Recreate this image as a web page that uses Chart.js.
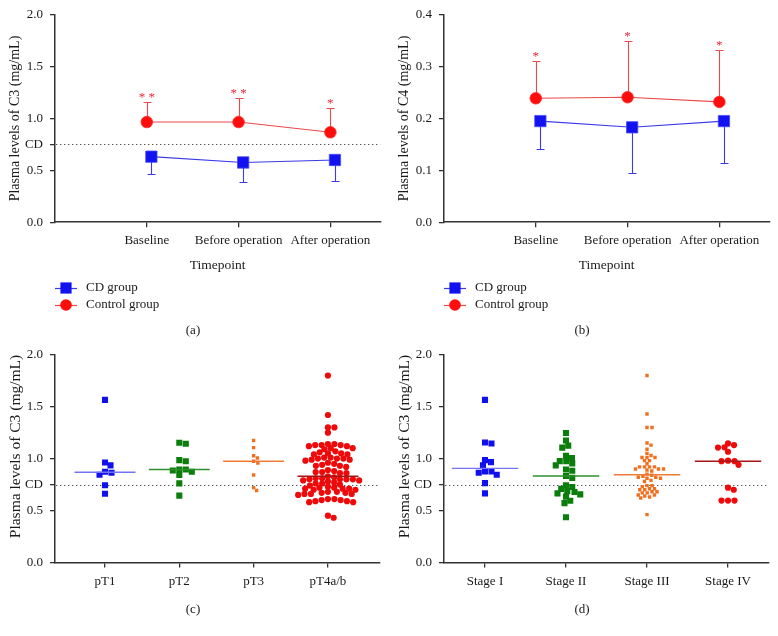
<!DOCTYPE html>
<html>
<head>
<meta charset="utf-8">
<script src="https://cdn.jsdelivr.net/npm/chart.js@4.4.1/dist/chart.umd.min.js"></script>
<style>
  html, body { margin: 0; padding: 0; background: #fff; }
  #wrap { position: relative; width: 778px; height: 636px; }
  canvas { position: absolute; }
</style>
</head>
<body>
<div id="wrap">
  <canvas id="panel-a" width="389" height="340" style="left:0;top:0"></canvas>
  <canvas id="panel-b" width="389" height="340" style="left:389px;top:0"></canvas>
  <canvas id="panel-c" width="389" height="296" style="left:0;top:340px"></canvas>
  <canvas id="panel-d" width="389" height="296" style="left:389px;top:340px"></canvas>
</div>
<script>
// ═══ DATA ═══
const timepoints = ['Baseline', 'Before operation', 'After operation'];
const c3Ticks = [0, 0.5, 0.75, 1, 1.5, 2];
const c4Ticks = [0, 0.1, 0.2, 0.3, 0.4];
const cdCutoff = 0.75;

const c3CdMean = [0.632, 0.576, 0.600];
const c3CdSd = [0.171, 0.192, 0.207];
const c3CtrlMean = [0.966, 0.966, 0.867];
const c3CtrlSd = [0.192, 0.234, 0.233];
const c3Stars = ['**', '**', '*'];

const c4CdMean = [0.195, 0.183, 0.195];
const c4CdSd = [0.053, 0.088, 0.080];
const c4CtrlMean = [0.239, 0.241, 0.232];
const c4CtrlSd = [0.071, 0.109, 0.100];
const c4Stars = ['*', '*', '*'];

const tLabels = ['pT1', 'pT2', 'pT3', 'pT4a/b'];
const pT1 = [1.566, 0.963, 0.935, 0.873, 0.864, 0.845, 0.743, 0.662];
const pT2 = [1.153, 1.143, 0.985, 0.975, 0.895, 0.895, 0.885, 0.873, 0.842, 0.761, 0.643];
const pT3 = [1.174, 1.106, 1.028, 1.006, 0.975, 0.957, 0.842, 0.720, 0.692];
const pT4 = [1.80, 1.42, 1.30, 1.30, 1.25,
  1.14, 1.14, 1.13, 1.13, 1.13, 1.12, 1.12,
  1.10, 1.10, 1.09, 1.07,
  1.06, 1.05, 1.05, 1.04, 1.04,
  1.01, 1.01, 1.00, 1.00, 1.00, 0.99, 0.99, 0.98,
  0.96, 0.95, 0.94, 0.93, 0.93, 0.92,
  0.89, 0.88, 0.87, 0.87, 0.86, 0.86,
  0.83, 0.82, 0.81, 0.81, 0.80, 0.80, 0.80, 0.80, 0.79, 0.79,
  0.78, 0.77, 0.76, 0.76, 0.75, 0.74, 0.73,
  0.72, 0.72, 0.71, 0.71, 0.71, 0.70, 0.70,
  0.68, 0.68, 0.67, 0.67, 0.66, 0.66, 0.66, 0.65,
  0.61, 0.61, 0.60, 0.60, 0.59, 0.59, 0.58, 0.58,
  0.45, 0.43];

const stageLabels = ['Stage I', 'Stage II', 'Stage III', 'Stage IV'];
const stage1 = [1.566, 1.155, 1.146, 0.985, 0.966, 0.935, 0.876, 0.876, 0.864, 0.845, 0.764, 0.665];
const stage2 = [1.246, 1.174, 1.125, 1.106, 1.028, 1.006, 0.976, 0.976, 0.954, 0.935, 0.895, 0.883,
  0.832, 0.814, 0.743, 0.727, 0.708, 0.687, 0.678, 0.665, 0.655, 0.634, 0.594, 0.571, 0.435];
const stage3 = [1.80, 1.43, 1.30, 1.30, 1.15, 1.13, 1.09, 1.05, 1.03, 1.01, 1.01, 1.01, 0.98, 0.98,
  0.95, 0.92, 0.92, 0.92, 0.92, 0.90, 0.90, 0.90, 0.89, 0.88, 0.85,
  0.84, 0.83, 0.82, 0.82, 0.81, 0.81, 0.79, 0.78, 0.74, 0.74, 0.73, 0.71, 0.71, 0.70, 0.70,
  0.68, 0.68, 0.67, 0.67, 0.65, 0.65, 0.64, 0.63, 0.62, 0.46];
const stage4 = [1.146, 1.130, 1.109, 1.106, 1.066, 0.980, 0.975, 0.975, 0.940, 0.720, 0.700, 0.596, 0.596, 0.596];

// ═══ STYLE ═══
const serif = '"Liberation Serif", "Times New Roman", serif';
const ink = '#1a1a1a';
const axisCol = '#333';
const dodge = 0.05;
// gapX / gapY: minimum centre distance between neighbouring dots, in pixels
const groupStyles = [
  { fill: '#1010ee', line: '#7474f2', shape: 'rect', r: 4.3, gapX: 6.4, gapY: 5.4 },
  { fill: '#0a7d0a', line: '#2f8f2f', shape: 'rect', r: 4.3, gapX: 6.4, gapY: 5.4 },
  { fill: '#f07020', line: '#f07a35', shape: 'rect', r: 2.4, gapX: 4.8, gapY: 3.6 },
  { fill: '#ee0a0a', line: '#a81414', shape: 'circle', r: 3.1, gapX: 6.3, gapY: 4.6 }
];

function median(arr) {
  const s = [...arr].sort((a, b) => a - b);
  const m = Math.floor(s.length / 2);
  return s.length % 2 ? s[m] : (s[m - 1] + s[m]) / 2;
}

function axisLook() {
  return {
    grid: { drawOnChartArea: false, drawTicks: true, tickLength: 5, color: axisCol, lineWidth: 1.3 },
    border: { display: true, color: axisCol, width: 1.5 }
  };
}

function yAxis(ticks, title, titleSize, titleAlign) {
  return {
    ...axisLook(),
    type: 'linear', min: ticks[0], max: ticks[ticks.length - 1],
    afterBuildTicks: s => { s.ticks = ticks.map(v => ({ value: v })); },
    afterFit: s => { s.width = 55; },
    ticks: { padding: 7, color: ink, font: { family: serif, size: 13 },
      callback: v => v === cdCutoff ? 'CD' : v.toFixed(1) },
    title: { display: true, text: title, color: ink, align: titleAlign,
      font: { family: serif, size: titleSize }, padding: { top: 7, bottom: 0 } }
  };
}

function xAxis(labels, min, max, title) {
  const ax = {
    ...axisLook(),
    type: 'linear', min: min, max: max,
    afterBuildTicks: s => { s.ticks = labels.map((_, i) => ({ value: i + 1 })); },
    ticks: { padding: 6, color: ink, font: { family: serif, size: 13 }, autoSkip: false, maxRotation: 0,
      callback: (v, i) => labels[i] }
  };
  if (title) ax.title = { display: true, text: title, color: ink, font: { family: serif, size: 13.5 },
    padding: { top: 3, bottom: 0 } };
  return ax;
}

// ═══ PLUGINS ═══
const cdLine = {
  id: 'cdLine',
  beforeDatasetsDraw(chart, args, opts) {
    if (!opts.show) return;
    const { ctx, chartArea, scales: { y } } = chart;
    const py = Math.round(y.getPixelForValue(cdCutoff)) + 0.5;
    ctx.save();
    ctx.strokeStyle = '#555';
    ctx.lineWidth = 1.2;
    ctx.setLineDash([1.4, 2.6]);
    ctx.beginPath();
    ctx.moveTo(chartArea.left + 1, py);
    ctx.lineTo(chartArea.right, py);
    ctx.stroke();
    ctx.restore();
  }
};

const errorBars = {
  id: 'errorBars',
  beforeDatasetsDraw(chart) {
    const { ctx, scales: { x, y } } = chart;
    chart.data.datasets.forEach(ds => {
      if (!ds.err) return;
      ctx.save();
      ctx.strokeStyle = ds.borderColor;
      ctx.lineWidth = 1.1;
      ds.data.forEach((p, i) => {
        const px = Math.round(x.getPixelForValue(p.x)) + 0.5;
        const y0 = y.getPixelForValue(p.y);
        const y1 = Math.round(y.getPixelForValue(p.y + ds.errDir * ds.err[i])) + 0.5;
        ctx.beginPath();
        ctx.moveTo(px, y0); ctx.lineTo(px, y1);
        ctx.moveTo(px - 4, y1); ctx.lineTo(px + 4, y1);
        ctx.stroke();
      });
      ctx.restore();
    });
  },
  afterDatasetsDraw(chart) {
    const { ctx, scales: { x, y } } = chart;
    chart.data.datasets.forEach(ds => {
      if (!ds.stars) return;
      ctx.save();
      ctx.fillStyle = '#e8283a';
      ctx.font = '13px ' + serif;
      ctx.textAlign = 'center';
      ctx.textBaseline = 'alphabetic';
      ds.data.forEach((p, i) => {
        const px = x.getPixelForValue(p.x);
        const y1 = y.getPixelForValue(p.y + ds.errDir * ds.err[i]);
        ctx.fillText(ds.stars[i].split('').join(' '), px, y1 - 1);
      });
      ctx.restore();
    });
  }
};

const deco = {
  id: 'deco',
  afterDraw(chart, args, opts) {
    const { ctx } = chart;
    ctx.save();
    ctx.font = '13px ' + serif;
    ctx.fillStyle = ink;
    ctx.textBaseline = 'middle';
    if (opts.legend) {
      chart.data.datasets.filter(ds => ds.inLegend).forEach((ds, k) => {
        const ly = 288 + k * 17;
        ctx.strokeStyle = ds.borderColor;
        ctx.lineWidth = 1.2;
        ctx.beginPath(); ctx.moveTo(55, ly + 0.5); ctx.lineTo(77, ly + 0.5); ctx.stroke();
        ctx.fillStyle = ds.backgroundColor;
        ctx.beginPath();
        if (ds.pointStyle === 'rect') ctx.rect(66 - 5.6, ly - 5.6, 11.2, 11.2);
        else ctx.arc(66, ly, ds.pointRadius, 0, Math.PI * 2);
        ctx.fill();
        ctx.fillStyle = ink;
        ctx.textAlign = 'left';
        ctx.fillText(ds.label, 86, ly);
      });
    }
    ctx.textAlign = 'center';
    ctx.fillStyle = ink;
    ctx.fillText(opts.caption, 193, opts.captionY);
    ctx.restore();
  }
};

// ═══ TIMEPOINT CHARTS (a, b) ═══
function timeChart(id, cd, cdSd, ctrl, ctrlSd, stars, ticks, yTitle, caption, showCd) {
  return new Chart(document.getElementById(id), {
    type: 'line',
    data: {
      datasets: [
        {
          label: 'CD group', data: cd.map((v, i) => ({ x: i + 1 + dodge, y: v })),
          borderColor: '#3a3ae6', borderWidth: 1.1, backgroundColor: '#1212f0',
          pointStyle: 'rect', pointRadius: 8, pointBorderColor: '#4a4af5', pointBorderWidth: 0.8,
          err: cdSd, errDir: -1, inLegend: true
        },
        {
          label: 'Control group', data: ctrl.map((v, i) => ({ x: i + 1, y: v })),
          borderColor: '#ea4a4a', borderWidth: 1.1, backgroundColor: '#ff0d0d',
          pointStyle: 'circle', pointRadius: 5.8, pointBorderColor: '#ff2a2a', pointBorderWidth: 0.8,
          err: ctrlSd, errDir: 1, stars: stars, inLegend: true
        }
      ]
    },
    options: {
      responsive: false, animation: false,
      layout: { padding: { left: 0, right: 8, top: 14, bottom: 66 } },
      scales: {
        x: xAxis(timepoints, 0, 3.543, 'Timepoint'),
        y: yAxis(ticks, yTitle, 14, 'center')
      },
      plugins: {
        legend: { display: false }, tooltip: { enabled: false },
        cdLine: { show: showCd },
        deco: { legend: true, caption: caption, captionY: 331 }
      }
    },
    plugins: [cdLine, errorBars, deco]
  });
}

// ═══ DOT PLOT CHARTS (c, d) ═══
// spread each group sideways (greedy beeswarm) so the dots do not cover each other
function spread(chart, values, dsIdx, center, st) {
  const xs = chart.scales.x, ys = chart.scales.y;
  const cx = xs.getPixelForValue(center);
  const placed = [];
  chart.data.datasets[dsIdx].data = [...values].sort((a, b) => b - a).map(v => {
    const py = ys.getPixelForValue(v);
    let dx = 0;
    for (let k = 0; k < 2000; k++) {
      const c = (k % 2 ? 1 : -1) * Math.ceil(k / 2) * 0.25;
      const free = placed.every(p => ((p.x - cx - c) / st.gapX) ** 2 + ((p.y - py) / st.gapY) ** 2 >= 1);
      if (free) { dx = c; break; }
    }
    placed.push({ x: cx + dx, y: py });
    return { x: xs.getValueForPixel(cx + dx), y: v };
  });
}

function dotChart(id, labels, groups, xMin, xMax, caption) {
  const datasets = [];
  groups.forEach((vals, g) => {
    const st = groupStyles[g];
    const med = median(vals);
    datasets.push({
      type: 'line', data: [{ x: g + 1 - 0.41, y: med }, { x: g + 1 + 0.41, y: med }],
      borderColor: st.line, borderWidth: 1.4, pointRadius: 0
    });
  });
  groups.forEach((vals, g) => {
    const st = groupStyles[g];
    datasets.push({
      type: 'scatter', data: vals.map(v => ({ x: g + 1, y: v })),
      backgroundColor: st.fill, pointStyle: st.shape, pointRadius: st.r, pointBorderWidth: 0
    });
  });
  const chart = new Chart(document.getElementById(id), {
    type: 'scatter',
    data: { datasets: datasets },
    options: {
      responsive: false, animation: false,
      layout: { padding: { left: 0, right: 9, top: 13, bottom: 41 } },
      scales: {
        x: xAxis(labels, xMin, xMax, null),
        y: yAxis(c3Ticks, 'Plasma levels of C3 (mg/mL)', 15.5, 'end')
      },
      plugins: {
        legend: { display: false }, tooltip: { enabled: false },
        cdLine: { show: true },
        deco: { legend: false, caption: caption, captionY: 270 }
      }
    },
    plugins: [cdLine, deco]
  });
  groups.forEach((vals, g) => spread(chart, vals, groups.length + g, g + 1, groupStyles[g]));
  chart.update('none');
  return chart;
}

timeChart('panel-a', c3CdMean, c3CdSd, c3CtrlMean, c3CtrlSd, c3Stars, c3Ticks,
  'Plasma levels of C3 (mg/mL)', '(a)', true);
timeChart('panel-b', c4CdMean, c4CdSd, c4CtrlMean, c4CtrlSd, c4Stars, c4Ticks,
  'Plasma levels of C4 (mg/mL)', '(b)', false);
dotChart('panel-c', tLabels, [pT1, pT2, pT3, pT4], 0.327, 4.701, '(c)');
dotChart('panel-d', stageLabels, [stage1, stage2, stage3, stage4], 0.494, 4.506, '(d)');
</script>
</body>
</html>
